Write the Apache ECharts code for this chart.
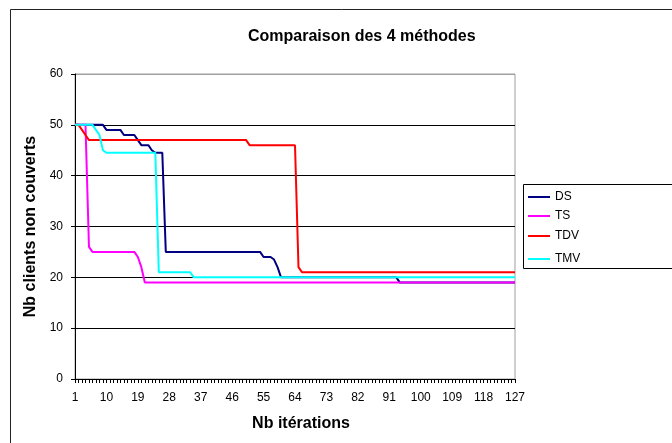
<!DOCTYPE html>
<html>
<head>
<meta charset="utf-8">
<script src="https://cdn.jsdelivr.net/npm/echarts@6/dist/echarts.min.js"></script>
<style>html,body{margin:0;padding:0;background:#fff}#c{width:672px;height:443px}</style>
</head>
<body>
<div id="c"></div>
<script>
var titleText = 'Comparaison des 4 méthodes';
var xName = 'Nb itérations';
var yName = 'Nb clients non couverts';
var seriesNames = ['DS', 'TS', 'TDV', 'TMV'];
var seriesColors = ['#000080', '#FF00FF', '#FF0000', '#00FFFF'];
var yTicks = [0, 10, 20, 30, 40, 50, 60];

var categories = [
  1,2,3,4,5,6,7,8,9,10,
  11,12,13,14,15,16,17,18,19,20,
  21,22,23,24,25,26,27,28,29,30,
  31,32,33,34,35,36,37,38,39,40,
  41,42,43,44,45,46,47,48,49,50,
  51,52,53,54,55,56,57,58,59,60,
  61,62,63,64,65,66,67,68,69,70,
  71,72,73,74,75,76,77,78,79,80,
  81,82,83,84,85,86,87,88,89,90,
  91,92,93,94,95,96,97,98,99,100,
  101,102,103,104,105,106,107,108,109,110,
  111,112,113,114,115,116,117,118,119,120,
  121,122,123,124,125,126,127
];

var DS = [
  50,50,50,50,50,50,50,50,50,49,
  49,49,49,49,48,48,48,48,47,46,
  46,46,45,44.5,44.5,44.5,25,25,25,25,
  25,25,25,25,25,25,25,25,25,25,
  25,25,25,25,25,25,25,25,25,25,
  25,25,25,25,24,24,24,23.5,22,20,
  20,20,20,20,20,20,20,20,20,20,
  20,20,20,20,20,20,20,20,20,20,
  20,20,20,20,20,20,20,20,20,20,
  20,20,20,19,19,19,19,19,19,19,
  19,19,19,19,19,19,19,19,19,19,
  19,19,19,19,19,19,19,19,19,19,
  19,19,19,19,19,19,19
];

var TS = [
  50,50,50,50,26,25,25,25,25,25,
  25,25,25,25,25,25,25,25,24,22,
  19,19,19,19,19,19,19,19,19,19,
  19,19,19,19,19,19,19,19,19,19,
  19,19,19,19,19,19,19,19,19,19,
  19,19,19,19,19,19,19,19,19,19,
  19,19,19,19,19,19,19,19,19,19,
  19,19,19,19,19,19,19,19,19,19,
  19,19,19,19,19,19,19,19,19,19,
  19,19,19,19,19,19,19,19,19,19,
  19,19,19,19,19,19,19,19,19,19,
  19,19,19,19,19,19,19,19,19,19,
  19,19,19,19,19,19,19
];

var TDV = [
  50,50,49,48,47,47,47,47,47,47,
  47,47,47,47,47,47,47,47,47,47,
  47,47,47,47,47,47,47,47,47,47,
  47,47,47,47,47,47,47,47,47,47,
  47,47,47,47,47,47,47,47,47,47,
  46,46,46,46,46,46,46,46,46,46,
  46,46,46,46,22,21,21,21,21,21,
  21,21,21,21,21,21,21,21,21,21,
  21,21,21,21,21,21,21,21,21,21,
  21,21,21,21,21,21,21,21,21,21,
  21,21,21,21,21,21,21,21,21,21,
  21,21,21,21,21,21,21,21,21,21,
  21,21,21,21,21,21,21
];

var TMV = [
  50,50,50,50,50,50,49,48,45,44.5,
  44.5,44.5,44.5,44.5,44.5,44.5,44.5,44.5,44.5,44.5,
  44.5,44.5,44.5,44.5,21,21,21,21,21,21,
  21,21,21,21,20,20,20,20,20,20,
  20,20,20,20,20,20,20,20,20,20,
  20,20,20,20,20,20,20,20,20,20,
  20,20,20,20,20,20,20,20,20,20,
  20,20,20,20,20,20,20,20,20,20,
  20,20,20,20,20,20,20,20,20,20,
  20,20,20,20,20,20,20,20,20,20,
  20,20,20,20,20,20,20,20,20,20,
  20,20,20,20,20,20,20,20,20,20,
  20,20,20,20,20,20,20
];

var seriesData = [DS, TS, TDV, TMV];
var legendTops = [191, 210, 230, 253];
var FONT = '"Liberation Sans", Arial, sans-serif';

var chart = echarts.init(document.getElementById('c'), null, {renderer: 'canvas'});

var series = seriesNames.map(function (n, i) {
  return {
    name: n, type: 'line', data: seriesData[i],
    showSymbol: false, symbol: 'none', smooth: false,
    lineStyle: {color: seriesColors[i], width: 2},
    itemStyle: {color: seriesColors[i]},
    animation: false
  };
});

var legends = seriesNames.map(function (n, i) {
  return {
    data: [n], left: 528, top: legendTops[i], padding: 0,
    icon: 'rect', itemWidth: 22, itemHeight: 2, itemGap: 0,
    textStyle: {fontFamily: FONT, fontSize: 12, color: '#000', padding: [0, 0, 0, 0]},
    selectedMode: false
  };
});

var splitColors = yTicks.map(function (t, i) { return i === yTicks.length - 1 ? '#a0a0a0' : '#000'; });

chart.setOption({
  backgroundColor: '#fff',
  animation: false,
  textStyle: {fontFamily: FONT},
  title: {
    text: titleText, left: 243, top: 24,
    textStyle: {fontFamily: FONT, fontSize: 16, fontWeight: 'bold', color: '#000'}
  },
  legend: legends,
  graphic: [
    {type: 'rect', shape: {x: 10.5, y: 9.5, width: 720, height: 520}, style: {fill: 'none', stroke: '#222', lineWidth: 1}, silent: true, z: -1},
    {type: 'rect', shape: {x: 523.5, y: 184.5, width: 200, height: 84}, style: {fill: '#fff', stroke: '#000', lineWidth: 1}, silent: true, z: 0}
  ],
  grid: {
    left: 75, top: 74, right: 157, bottom: 64,
    show: true, borderColor: '#a0a0a0', borderWidth: 1, backgroundColor: 'transparent'
  },
  xAxis: {
    type: 'category', data: categories, boundaryGap: false,
    name: xName, nameLocation: 'middle', nameGap: 37,
    nameTextStyle: {fontFamily: FONT, fontSize: 16, fontWeight: 'bold', color: '#000', padding: [0, 0, 0, 12]},
    axisLine: {show: true, lineStyle: {color: '#000', width: 1}},
    axisTick: {show: true, interval: 0, length: 4, inside: false, alignWithLabel: true, lineStyle: {color: '#000'}},
    axisLabel: {interval: 8, margin: 13, fontFamily: FONT, fontSize: 12, color: '#000'},
    splitLine: {show: false}
  },
  yAxis: {
    type: 'value', min: 0, max: 60, interval: 10,
    name: yName, nameLocation: 'middle', nameGap: 30, nameRotate: 90,
    nameTextStyle: {fontFamily: FONT, fontSize: 16, fontWeight: 'bold', color: '#000'},
    axisLine: {show: true, lineStyle: {color: '#000', width: 1}},
    axisTick: {show: true, length: 4, lineStyle: {color: '#000'}},
    axisLabel: {margin: 12, fontFamily: FONT, fontSize: 12, color: '#000'},
    splitLine: {show: true, lineStyle: {color: splitColors, width: 1}}
  },
  series: series
});
</script>
</body>
</html>
